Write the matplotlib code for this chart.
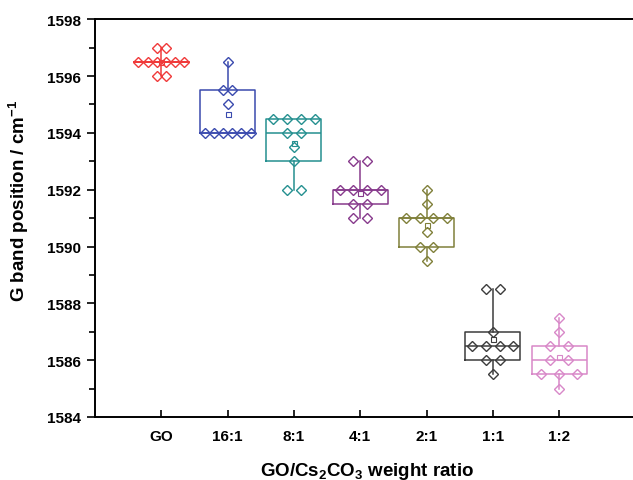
import numpy as np
import matplotlib.pyplot as plt
from matplotlib import cbook

plt.rcParams['font.family'] = ['Liberation Sans', 'DejaVu Sans']
plt.rcParams['font.weight'] = 'bold'
plt.rcParams['mathtext.fontset'] = 'custom'
plt.rcParams['mathtext.rm'] = 'Liberation Sans:bold'
plt.rcParams['mathtext.bf'] = 'Liberation Sans:bold'
plt.rcParams['mathtext.default'] = 'bf'

# G band positions (cm-1)
groups = ['GO', '16:1', '8:1', '4:1', '2:1', '1:1', '1:2']
go = [1597, 1597, 1596.5, 1596.5, 1596.5, 1596.5, 1596.5, 1596.5, 1596, 1596]
r16 = [1596.5, 1595.5, 1595.5, 1595, 1594, 1594, 1594, 1594, 1594, 1594]
r8 = [1594.5, 1594.5, 1594.5, 1594.5, 1594, 1594, 1593.5, 1593, 1592, 1592]
r4 = [1593, 1593, 1592, 1592, 1592, 1592, 1591.5, 1591.5, 1591, 1591]
r2 = [1592, 1591.5, 1591, 1591, 1591, 1591, 1590.5, 1590, 1590, 1589.5]
r1 = [1588.5, 1588.5, 1587, 1586.5, 1586.5, 1586.5, 1586.5, 1586, 1586, 1585.5]
r05 = [1587.5, 1587, 1586.5, 1586.5, 1586, 1586, 1585.5, 1585.5, 1585.5, 1585]
data = [go, r16, r8, r4, r2, r1, r05]
colors = ['#F03A3A', '#3A4AAE', '#259090', '#873A8C', '#80803A', '#3C3C3C', '#D888C8']

BOX_W = 0.83
positions = np.arange(1, len(groups) + 1)

fig = plt.figure(figsize=(6.33, 4.81), dpi=100)
ax = fig.add_axes([0.150, 0.131, 0.859, 0.827])

# box stats: whiskers at min/max, quartiles like Origin
stats = cbook.boxplot_stats(data, whis=(0, 100))
for s, d in zip(stats, data):
    s['q1'] = np.percentile(d, 25, method='inverted_cdf')
    s['q3'] = np.percentile(d, 75, method='inverted_cdf')

bp = ax.bxp(stats, positions=positions, widths=BOX_W, showmeans=True,
            showcaps=False, showfliers=False)
for i, c in enumerate(colors):
    bp['boxes'][i].set(color=c, linewidth=1.1)
    bp['medians'][i].set(color=c, linewidth=1.1)
    bp['whiskers'][2 * i].set(color=c, linewidth=1.1)
    bp['whiskers'][2 * i + 1].set(color=c, linewidth=1.1)
    bp['means'][i].set(marker='s', markersize=3.6, markerfacecolor='none',
                       markeredgecolor=c, markeredgewidth=0.8)

# data points: equal values spread sideways in a row
for pos, d, c in zip(positions, data, colors):
    vals, counts = np.unique(d, return_counts=True)
    step = BOX_W / counts.max()
    for v, k in zip(vals, counts):
        xs = pos + (np.arange(k) - (k - 1) / 2) * step
        ax.plot(xs, [v] * k, linestyle='none', marker='D', markersize=4.7,
                markerfacecolor='none', markeredgecolor=c, markeredgewidth=1.0)

ax.set_xlim(0, 8.2)
ax.set_ylim(1584, 1598)
ax.set_xticks(positions)
ax.set_xticklabels(groups)
ax.set_yticks(np.arange(1584, 1599, 2))
ax.set_yticks(np.arange(1585, 1598, 2), minor=True)

ax.spines['right'].set_visible(False)
for sp in ['left', 'top', 'bottom']:
    ax.spines[sp].set_linewidth(1.4)

ax.tick_params(axis='y', which='major', direction='out', length=6, width=1.2,
               labelsize=11, pad=4)
ax.tick_params(axis='y', which='minor', direction='out', length=4, width=1.2)
ax.tick_params(axis='x', which='major', direction='in', length=5, width=1.2,
               labelsize=11, pad=9)

ax.set_ylabel('G band position / cm$^{-1}$', fontsize=13.5, fontweight='bold')
ax.yaxis.set_label_coords(-0.118, 0.545)
ax.set_xlabel('GO/Cs$_{2}$CO$_{3}$ weight ratio', fontsize=13.5, fontweight='bold', labelpad=12)

fig.savefig('out.png', dpi=100)
